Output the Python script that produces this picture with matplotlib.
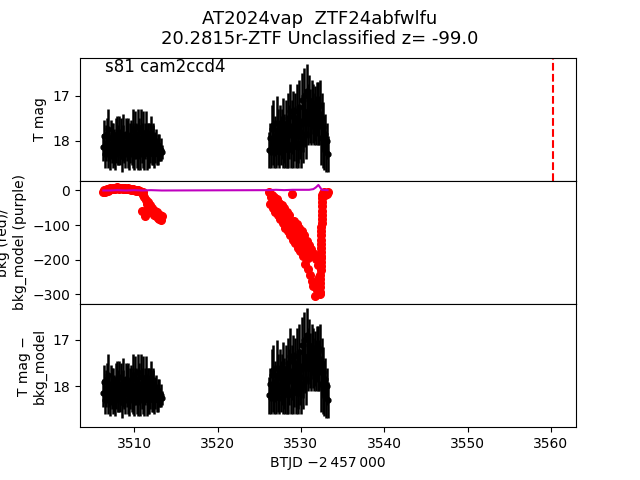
import matplotlib
matplotlib.use('Agg')
import matplotlib.pyplot as plt

# orbit 1 light curve (BTJD - 2457000)
t1 = [3506.3, 3506.4, 3506.5, 3506.6, 3506.7, 3506.8, 3506.9, 3507.0, 3507.1, 3507.2,
      3507.3, 3507.4, 3507.5, 3507.6, 3507.7, 3507.8, 3507.9, 3508.0, 3508.1, 3508.2,
      3508.3, 3508.4, 3508.5, 3508.6, 3508.7, 3508.8, 3508.9, 3509.0, 3509.1, 3509.2,
      3509.3, 3509.4, 3509.5, 3509.6, 3509.7, 3509.8, 3509.9, 3510.0, 3510.1, 3510.2,
      3510.3, 3510.4, 3510.5, 3510.6, 3510.7, 3510.8, 3510.9, 3511.0, 3511.1, 3511.2,
      3511.3, 3511.4, 3511.5, 3511.6, 3511.7, 3511.8, 3511.9, 3512.0, 3512.1, 3512.2,
      3512.3, 3512.4, 3512.5, 3512.6, 3512.7, 3512.8, 3512.9, 3513.0, 3513.1, 3513.2,
      3513.3]
mag1 = [18.15, 17.90, 18.30, 18.05, 17.85, 18.20, 17.75, 18.10, 18.35, 17.95,
        18.05, 18.25, 17.90, 18.15, 18.30, 18.00, 17.85, 18.20, 18.10, 17.80,
        18.25, 17.95, 18.35, 18.05, 17.90, 18.15, 18.30, 17.85, 18.00, 18.20,
        17.90, 18.30, 18.05, 17.95, 18.20, 17.75, 18.10, 18.35, 17.85, 18.00,
        18.25, 17.70, 18.15, 17.95, 18.30, 17.80, 18.05, 18.20, 17.90, 18.30,
        18.00, 17.80, 18.25, 18.10, 17.95, 18.30, 18.05, 17.85, 18.20, 18.10,
        17.95, 18.30, 18.15, 18.05, 18.25, 18.10, 18.30, 18.15, 18.25, 18.20,
        18.25]
err1 = [0.30, 0.35, 0.30, 0.40, 0.35, 0.40, 0.45, 0.35, 0.30, 0.40,
        0.45, 0.35, 0.30, 0.40, 0.35, 0.50, 0.40, 0.35, 0.45, 0.35,
        0.30, 0.45, 0.35, 0.40, 0.50, 0.35, 0.30, 0.35, 0.45, 0.40,
        0.40, 0.35, 0.45, 0.40, 0.35, 0.45, 0.50, 0.30, 0.50, 0.40,
        0.35, 0.40, 0.50, 0.45, 0.35, 0.50, 0.45, 0.40, 0.55, 0.35,
        0.40, 0.45, 0.40, 0.50, 0.35, 0.30, 0.45, 0.40, 0.35, 0.45,
        0.35, 0.30, 0.35, 0.30, 0.30, 0.25, 0.25, 0.30, 0.20, 0.25,
        0.15]
bkg1 = [-3, 2, -4, 1, 3, -2, 4, 2, 6, 3, 5,
        7, 4, 8, 5, 7, 9, 6, 8, 5, 7,
        6, 8, 5, 6, 4, 7, 5, 3, 6, 4,
        3, 5, 2, 4, 1, 3, 0, 2, -1, 1,
        -1, 0, -2, -1, -4, -60, -5, -12, -20, -75,
        -28, -40, -32, -45, -55, -42, -60, -50, -66, -55,
        -70, -60, -75, -62, -80, -68, -82, -70, -85, -75]

# orbit 2
t2 = [3526.2, 3526.3, 3526.4, 3526.5, 3526.6, 3526.7, 3526.8, 3526.9, 3527.0, 3527.1,
      3527.2, 3527.3, 3527.4, 3527.5, 3527.6, 3527.7, 3527.8, 3527.9, 3528.0, 3528.1,
      3528.2, 3528.3, 3528.4, 3528.5, 3528.6, 3528.7, 3528.8, 3528.9, 3529.0, 3529.1,
      3529.2, 3529.3, 3529.4, 3529.5, 3529.6, 3529.7, 3529.8, 3529.9, 3530.0, 3530.1,
      3530.2, 3530.3, 3530.4, 3530.5, 3530.6, 3530.7, 3530.8, 3530.9, 3531.0, 3531.1,
      3531.2, 3531.3, 3531.4, 3531.5, 3531.6, 3531.7, 3531.8, 3531.9, 3532.0, 3532.1,
      3532.2, 3532.3, 3532.4, 3532.5, 3532.6, 3532.7, 3532.8, 3532.9, 3533.0, 3533.1,
      3533.2]
mag2 = [18.20, 17.95, 18.25, 17.75, 18.05, 17.65, 18.25, 17.90, 18.15, 17.60,
        18.05, 17.80, 18.25, 17.70, 18.00, 17.85, 18.20, 17.60, 17.95, 18.15,
        17.65, 18.05, 17.50, 18.20, 17.80, 17.35, 18.10, 17.70, 17.45, 18.15,
        17.85, 17.50, 18.05, 17.35, 17.90, 18.15, 17.25, 17.80, 18.05, 17.10,
        17.60, 17.95, 17.00, 17.50, 17.85, 16.90, 17.35, 17.60, 17.10, 17.45,
        17.60, 17.20, 17.50, 17.30, 17.60, 17.40, 17.55, 17.30, 17.60, 17.25,
        17.55, 17.20, 17.95, 17.50, 18.05, 17.70, 18.15, 17.85, 18.25, 18.00,
        18.30]
err2 = [0.40, 0.35, 0.35, 0.55, 0.50, 0.55, 0.35, 0.45, 0.45, 0.60,
        0.50, 0.50, 0.35, 0.50, 0.55, 0.55, 0.40, 0.55, 0.55, 0.45,
        0.55, 0.55, 0.55, 0.40, 0.60, 0.60, 0.50, 0.60, 0.55, 0.45,
        0.60, 0.55, 0.55, 0.60, 0.60, 0.45, 0.60, 0.60, 0.55, 0.60,
        0.65, 0.55, 0.60, 0.65, 0.55, 0.60, 0.60, 0.50, 0.55, 0.60,
        0.50, 0.55, 0.55, 0.55, 0.50, 0.60, 0.55, 0.60, 0.50, 0.55,
        0.55, 0.55, 0.60, 0.55, 0.55, 0.55, 0.50, 0.45, 0.45, 0.40,
        0.40]
bkg2 = [-5, -38, -20, -12, -50, -30, -18, -62, -40, -25,
        -72, -50, -35, -82, -60, -42, -95, -68, -52, -108,
        -80, -62, -118, -92, -72, -128, -100, -10, -142, -112,
        -88, -152, -122, -98, -165, -135, -108, -175, -145, -118,
        -190, -160, -130, -212, -178, -145, -228, -195, -158, -245,
        -170, -262, -180, -275, -190, -305, -198, -288, -215, -295,
        -250, -298, -190, -70, -8, -15, -4, -12, -6, -10,
        -3]

# fast background recovery near the end of orbit 2
t_rise = [3532.31, 3532.32, 3532.33, 3532.34, 3532.35, 3532.36, 3532.37, 3532.38,
          3532.39, 3532.41, 3532.42, 3532.43, 3532.44, 3532.45, 3532.46, 3532.47,
          3532.48, 3532.49, 3532.51, 3532.52, 3532.53, 3532.54, 3532.55]
bkg_rise = [-292, -280, -268, -255, -243, -231, -219, -207,
            -196, -178, -166, -154, -142, -130, -118, -106,
            -94, -82, -58, -46, -34, -22, -12]

# background model
t_model = [3506.3, 3507.0, 3508.0, 3509.0, 3510.0, 3511.0, 3512.0, 3513.3,
           3526.2, 3527.0, 3528.0, 3529.0, 3530.0, 3531.0, 3531.5, 3531.8,
           3532.1, 3532.3, 3532.5, 3533.2]
bkg_model = [0, 0, 1, 0, 1, 0, 1, 0,
             1, 2, 1, 2, 2, 2, 4, 9,
             16, 9, 2, 1]

title = 'AT2024vap  ZTF24abfwlfu\n20.2815r-ZTF Unclassified z= -99.0'
sector_label = 's81 cam2ccd4'
t_discovery = 3560.2

fig, axes = plt.subplots(3, 1, sharex=True, figsize=(6.4, 4.8))
fig.subplots_adjust(hspace=0)
fig.suptitle(title, fontsize=13)

ax = axes[0]
ax.errorbar(t1, mag1, yerr=err1, fmt='ko', ms=3.5, elinewidth=1.8)
ax.errorbar(t2, mag2, yerr=err2, fmt='ko', ms=3.5, elinewidth=1.8)
ax.axvline(t_discovery, color='r', ls='--')
ax.set_ylim(18.89, 16.16)
ax.set_yticks([17, 18])
ax.set_ylabel('T mag')
ax.text(0.05, 1.0, sector_label, transform=ax.transAxes, va='top', fontsize=12)

ax = axes[1]
ax.plot(t1, bkg1, 'ro', ms=5.5)
ax.plot(t2, bkg2, 'ro', ms=5.5)
ax.plot(t_rise, bkg_rise, 'ro', ms=5.5)
ax.plot(t_model, bkg_model, 'm-')
ax.set_ylim(-328, 28)
ax.set_yticks([0, -100, -200, -300])
ax.set_ylabel('bkg (red)/\nbkg_model (purple)')

ax = axes[2]
ax.errorbar(t1, mag1, yerr=err1, fmt='ko', ms=3.5, elinewidth=1.8)
ax.errorbar(t2, mag2, yerr=err2, fmt='ko', ms=3.5, elinewidth=1.8)
ax.set_ylim(18.89, 16.22)
ax.set_yticks([17, 18])
ax.set_ylabel('T mag \u2212\nbkg_model')
ax.set_xlabel('BTJD \u22122\u2009457\u2009000')

for ax in axes[:2]:
    ax.tick_params(axis='x', bottom=False)
axes[2].set_xlim(3503.5, 3563.0)

plt.savefig('out.png', dpi=100)
